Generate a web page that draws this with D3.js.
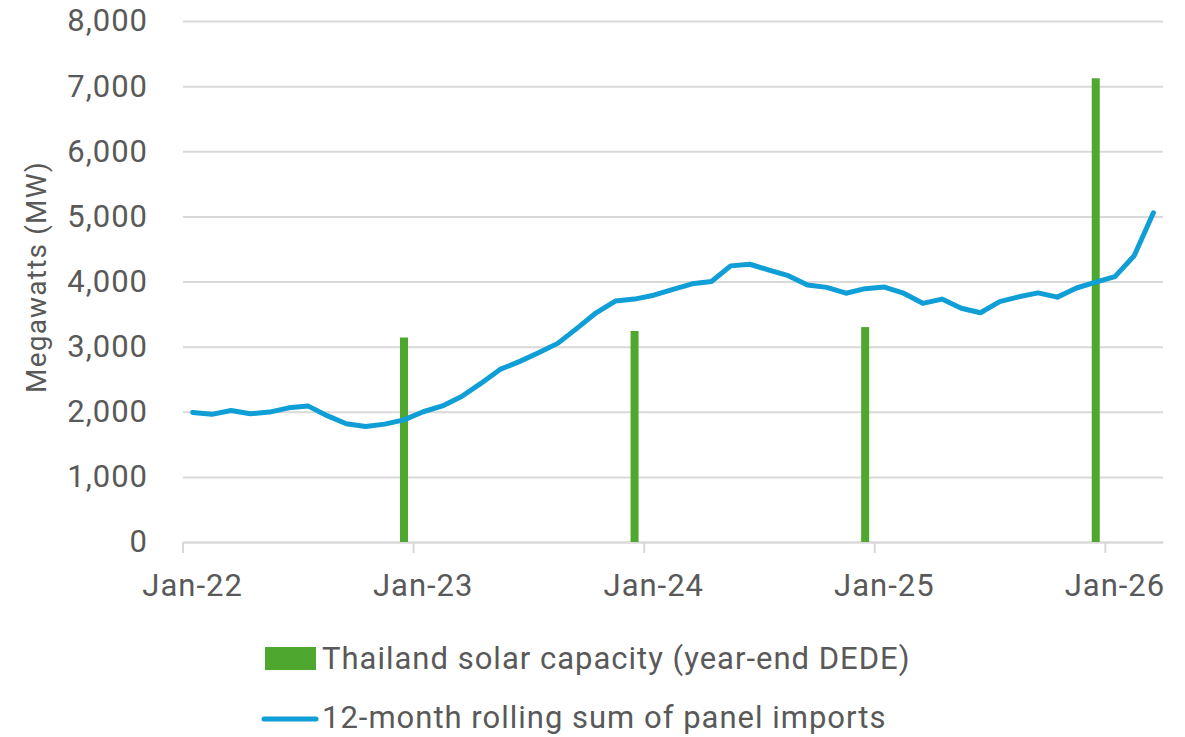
<!DOCTYPE html>
<html>
<head>
<meta charset="utf-8">
<script src="https://cdn.jsdelivr.net/npm/d3@7"></script>
<style>
  body { margin: 0; background: #fff; }
  svg text { font-family: Roboto, "Liberation Sans", sans-serif; fill: #595959; letter-spacing: 1px; }
</style>
</head>
<body>
<svg id="chart" width="1185" height="737"></svg>
<script>
// month categories Jan-22 .. Mar-26
var months = d3.timeMonths(new Date(2022, 0, 1), new Date(2026, 3, 1));
var fmt = d3.timeFormat("%b-%y");

// 12-month rolling sum of panel imports (MW), one per month
var importsMW = [
  1990, 1960, 2020, 1970, 1995, 2060, 2090, 1940, 1815, 1775, 1810, 1875,
  2000, 2090, 2235, 2435, 2650, 2770, 2905, 3050, 3280, 3520, 3700, 3730,
  3790, 3880, 3965, 4000, 4240, 4265, 4175, 4090, 3945, 3910, 3820, 3890,
  3915, 3820, 3665, 3730, 3590, 3520, 3690, 3765, 3825, 3760, 3900, 3990,
  4075, 4395, 5055
];

// year-end solar capacity (DEDE)
var capMonths = ["Dec-22", "Dec-23", "Dec-24", "Dec-25"];
var capMW = [3140, 3240, 3300, 7120];

var yTicks = [0, 1000, 2000, 3000, 4000, 5000, 6000, 7000, 8000];
var xTickLabels = ["Jan-22", "Jan-23", "Jan-24", "Jan-25", "Jan-26"];

var margin = {top: 21, right: 22, bottom: 195, left: 183},
    width = 1185 - margin.left - margin.right,
    height = 737 - margin.top - margin.bottom;

var svg = d3.select("#chart");
var g = svg.append("g")
    .attr("transform", "translate(" + margin.left + "," + margin.top + ")");

var x = d3.scaleBand().domain(months.map(fmt)).range([0, width]).padding(0);
var y = d3.scaleLinear().domain([0, 8000]).range([height, 0]);
var bw = x.bandwidth();

// gridlines + y labels
var yAxis = g.append("g")
    .call(d3.axisLeft(y).tickValues(yTicks).tickSize(-width).tickPadding(35)
      .tickFormat(d3.format(",")));
yAxis.select(".domain").remove();
yAxis.selectAll("line").attr("stroke", "#d9d9d9").attr("stroke-width", 2);
yAxis.selectAll("text").style("font-size", "31px").attr("fill", "#595959");

// x axis: tick marks on Jan boundaries, labels centred in the month
var xAxis = g.append("g")
    .attr("transform", "translate(0," + height + ")")
    .call(d3.axisBottom(x).tickValues(xTickLabels).tickSize(0).tickPadding(32));
xAxis.select(".domain").attr("stroke", "#d9d9d9").attr("stroke-width", 2);
xAxis.selectAll("text").style("font-size", "31px").attr("fill", "#595959");
xAxis.selectAll(".tickmark").data(xTickLabels).enter().append("line")
    .attr("x1", function(d) { return x(d); })
    .attr("x2", function(d) { return x(d); })
    .attr("y1", 0).attr("y2", 11)
    .attr("stroke", "#d9d9d9").attr("stroke-width", 2);

// bars
g.selectAll(".bar").data(capMonths).enter().append("rect")
    .attr("class", "bar")
    .attr("x", function(d) { return x(d) + bw / 2 - 4; })
    .attr("width", 8)
    .attr("y", function(d, i) { return y(capMW[i]); })
    .attr("height", function(d, i) { return height - y(capMW[i]); })
    .attr("fill", "#4ea72e");

// line
var line = d3.line()
    .x(function(d, i) { return x(fmt(months[i])) + bw / 2; })
    .y(function(d) { return y(d); });
g.append("path")
    .datum(importsMW)
    .attr("d", line)
    .attr("fill", "none")
    .attr("stroke", "#0f9ed5")
    .attr("stroke-width", 5)
    .attr("stroke-linejoin", "round")
    .attr("stroke-linecap", "round");

// y title
svg.append("text")
    .attr("transform", "translate(46,277) rotate(-90)")
    .attr("text-anchor", "middle")
    .style("font-size", "28px")
    .style("letter-spacing", "1.2px")
    .text("Megawatts (MW)");

// legend
var leg = svg.append("g");
leg.append("rect").attr("x", 265).attr("y", 647).attr("width", 51).attr("height", 23)
    .attr("fill", "#4ea72e");
leg.append("text").attr("x", 322).attr("y", 669).style("font-size", "31px")
    .text("Thailand solar capacity (year-end DEDE)");
leg.append("line").attr("x1", 264).attr("x2", 316).attr("y1", 719).attr("y2", 719)
    .attr("stroke", "#0f9ed5").attr("stroke-width", 5).attr("stroke-linecap", "round");
leg.append("text").attr("x", 322).attr("y", 728).style("font-size", "31px")
    .text("12-month rolling sum of panel imports");
</script>
</body>
</html>
